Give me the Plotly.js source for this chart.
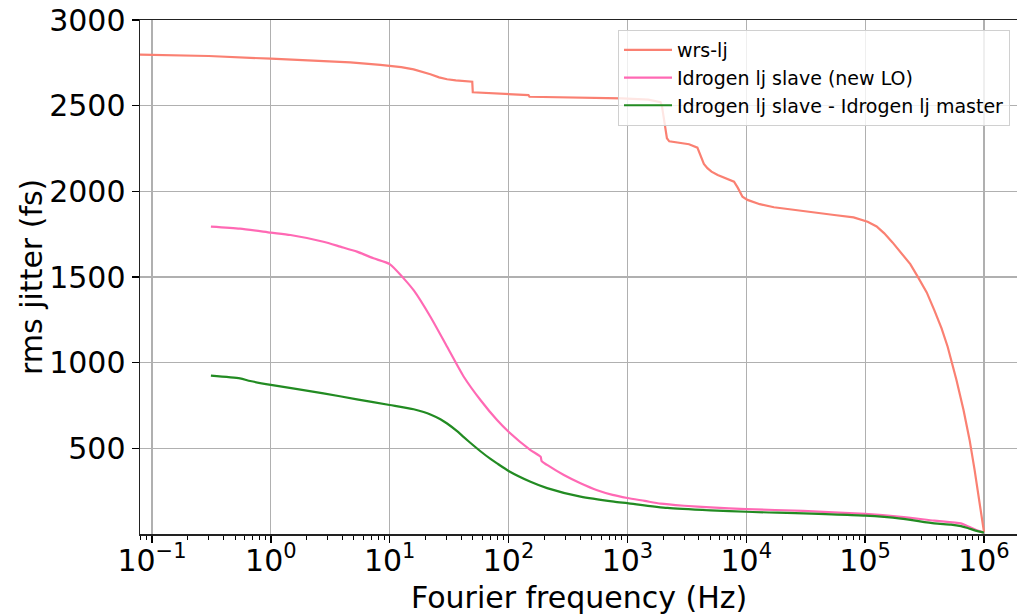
<!DOCTYPE html>
<html>
<head>
<meta charset="utf-8">
<script src="https://cdn.plot.ly/plotly-3.0.1.min.js"></script>
<style>html,body{margin:0;padding:0;background:#fff;}#chart{width:1017px;height:615px;}</style>
</head>
<body>
<div id="chart"></div>
<script>
// ---- data ----
const wrsFreq = [0.079, 0.3, 1, 4.66, 8.34, 10, 12.5, 15.9, 19, 22, 26, 30.4, 36, 42, 49.5, 50, 70, 100, 147, 150, 300, 600, 900, 1500, 1900, 1950, 2050, 2150, 2250, 2700, 3300, 3880, 4140, 4400, 4710, 5100, 5750, 6800, 7890, 8500, 9290, 10240, 13000, 17100, 28800, 55000, 80000, 105000, 125000, 145000, 170000, 200000, 240000, 277000, 330000, 382000, 440000, 495000, 587000, 673000, 757000, 834000, 910000, 973000, 1000000];
const wrsVals = [2798, 2790, 2774, 2753, 2738, 2733, 2725, 2712, 2697, 2683, 2665, 2654, 2648, 2644, 2640, 2578, 2573, 2568, 2562, 2552, 2549, 2546, 2543, 2535, 2520, 2500, 2400, 2310, 2292, 2285, 2275, 2255, 2202, 2160, 2135, 2115, 2095, 2075, 2056, 2020, 1969, 1950, 1925, 1907, 1885, 1862, 1848, 1823, 1795, 1755, 1702, 1645, 1575, 1502, 1410, 1307, 1200, 1093, 899, 724, 549, 374, 198, 70, 12];

const pinkFreq = [0.313, 0.55, 1, 1.46, 2.77, 3.84, 5.3, 7.3, 10, 13.1, 16, 22, 30.4, 42, 58, 80, 100, 153, 186, 190, 211, 292, 403, 557, 750, 1000, 1400, 1905, 3000, 5000, 10000, 30000, 100000, 200000, 382000, 640000, 730000, 850000, 1000000];
const pinkVals = [1794, 1782, 1759, 1745, 1706, 1677, 1648, 1609, 1575, 1492, 1420, 1268, 1093, 918, 782, 665, 597, 490, 451, 425, 403, 344, 296, 255, 228, 210, 193, 177, 165, 155, 145, 135, 117, 100, 78, 62, 45, 25, 8];

const greenFreq = [0.313, 0.55, 0.67, 1, 2.77, 5.3, 10, 15.9, 19.3, 22, 26.7, 30.4, 36.9, 42, 51, 58, 70.5, 80, 100, 153, 211, 403, 770, 1000, 2170, 5000, 10000, 100000, 200000, 382000, 528000, 640000, 730000, 850000, 1000000];
const greenVals = [924, 908, 893, 870, 821, 786, 753, 728, 712, 698, 670, 645, 600, 565, 515, 483, 438, 412, 368, 305, 268, 218, 189, 180, 152, 138, 130, 107, 90, 62, 55, 46, 35, 20, 8];

const seriesNames = ["wrs-lj", "Idrogen lj slave (new LO)", "Idrogen lj slave - Idrogen lj master"];
const xTitle = "Fourier frequency (Hz)";
const yTitle = "rms jitter (fs)";

const xTickVals = [0.1, 1, 10, 100, 1000, 10000, 100000, 1000000];
const xTickText = ["10<sup>\u22121</sup>", "10<sup>0</sup>", "10<sup>1</sup>", "10<sup>2</sup>", "10<sup>3</sup>", "10<sup>4</sup>", "10<sup>5</sup>", "10<sup>6</sup>"];
const yTickVals = [500, 1000, 1500, 2000, 2500, 3000];

// minor tick positions on the log axis (2..9 x decade)
const minorVals = [];
for (let e = -2; e <= 6; e++) for (let m = 2; m <= 9; m++) minorVals.push(m * Math.pow(10, e));

const font = "DejaVu Sans, sans-serif";
const traces = [
  {x: wrsFreq, y: wrsVals, name: seriesNames[0], legendgroup: "a", line: {color: "#FA8072", width: 2.2}},
  {x: pinkFreq, y: pinkVals, name: seriesNames[1], legendgroup: "b", line: {color: "#FF69B4", width: 2.2, shape: "spline", smoothing: 0.6}},
  {x: greenFreq, y: greenVals, name: seriesNames[2], legendgroup: "c", line: {color: "#228B22", width: 2.2, shape: "spline", smoothing: 0.6}}
].map(t => Object.assign({type: "scatter", mode: "lines"}, t));

const L = 140, R = 0, T = 20, B = 81, W = 1017, H = 615;
const pw = W - L - R, ph = H - T - B;

const layout = {
  width: W, height: H,
  margin: {l: L, r: R, t: T, b: B},
  paper_bgcolor: "#fff", plot_bgcolor: "#fff",
  font: {family: font, color: "#000"},
  showlegend: true,
  legend: {
    x: (1010 - L) / pw, y: 1 - (30 - T) / ph, yanchor: "top", xanchor: "right",
    bgcolor: "rgba(255,255,255,0.8)", bordercolor: "#d0d0d0", borderwidth: 1,
    font: {family: font, size: 19, color: "#000"},
    tracegroupgap: 0, itemwidth: 48
  },
  xaxis: {
    type: "log", range: [-1.101, 6.278],
    tickvals: xTickVals, ticktext: xTickText,
    tickfont: {family: font, size: 30, color: "#000"},
    ticks: "outside", ticklen: 7, tickwidth: 1.3, tickcolor: "#000",
    ticklabelstandoff: -8,
    showgrid: true, gridcolor: "#b0b0b0", gridwidth: 1.1,
    showline: true, linecolor: "#222", linewidth: 1.5, mirror: true,
    zeroline: false,
    minor: {tickvals: minorVals, ticks: "outside", ticklen: 4, tickwidth: 1, tickcolor: "#000", showgrid: false}
  },
  yaxis: {
    range: [0, 3000], tickvals: yTickVals,
    tickfont: {family: font, size: 30, color: "#000"},
    ticks: "outside", ticklen: 7, tickwidth: 1.3, tickcolor: "#000",
    showgrid: true, gridcolor: "#b0b0b0", gridwidth: 1.1,
    showline: true, linecolor: "#222", linewidth: 1.5, mirror: false,
    zeroline: false
  },
  annotations: [
    {text: xTitle, xref: "paper", yref: "paper", x: 0.5, y: -(597 - (T + ph)) / ph,
     xanchor: "center", yanchor: "middle", showarrow: false,
     font: {family: font, size: 30, color: "#000"}},
    {text: yTitle, xref: "paper", yref: "paper", x: (31 - L) / pw, y: 0.5, textangle: -90,
     xanchor: "center", yanchor: "middle", showarrow: false,
     font: {family: font, size: 30, color: "#000"}}
  ]
};

Plotly.newPlot("chart", traces, layout, {displayModeBar: false, staticPlot: true});
</script>
</body>
</html>
